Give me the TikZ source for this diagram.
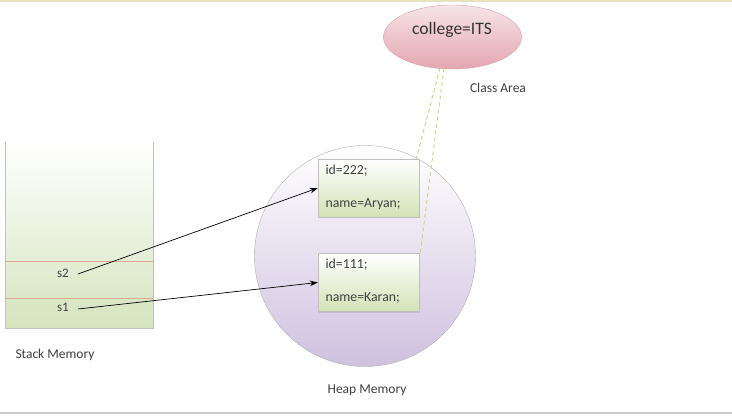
\documentclass[tikz,border=0pt]{standalone}
\usepackage{fontspec}
\setmainfont{Carlito}
\usetikzlibrary{arrows.meta,shadows,shapes.geometric}
\definecolor{stackg}{HTML}{D5E4BE}
\definecolor{boxg}{HTML}{D3E2B6}
\definecolor{heapv}{HTML}{CEC1DF}
\definecolor{pinkc}{HTML}{E3A6B0}
\definecolor{pinkb}{HTML}{D9A0AA}
\definecolor{dashc}{HTML}{C9D48E}
\definecolor{sepc}{HTML}{D9A995}
\definecolor{txt}{HTML}{404040}
\tikzset{
  objbox/.style={draw=black!25, top color=white, bottom color=boxg, minimum width=101pt, minimum height=58pt, inner sep=0pt, drop shadow={opacity=0.25, shadow xshift=1pt, shadow yshift=-1pt}},
  lbl/.style={font=\fontsize{13}{15}\selectfont, text=txt},
  boxt/.style={font=\fontsize{13.8}{15}\selectfont, text=txt},
  big/.style={font=\fontsize{13.5}{15}\selectfont, text=txt},
  ref/.style={-{Stealth[length=8pt,width=5.5pt]}, line width=0.7pt, black},
  dashg/.style={draw=dashc, line width=0.9pt, dash pattern=on 4pt off 3pt}
}
\begin{document}
\begin{tikzpicture}[x=1pt,y=-1pt]
\useasboundingbox (0,0) rectangle (732,416);
\fill[white] (0,0) rectangle (732,416);
\draw[draw=black!15!olive!20, line width=1.2pt] (0,1) -- (732,1);
\draw[draw=black!20, line width=1.2pt] (0,413) -- (732,413);
% stack
\shade[top color=white, bottom color=stackg, middle color=stackg!50] (5,142) rectangle (153,328);
\draw[black!25] (5,142) -- (5,328) -- (153,328) -- (153,142);
\draw[draw=sepc, line width=0.8pt] (5,261.5) -- (153,261.5);
\draw[draw=sepc, line width=0.8pt] (5,298) -- (153,298);
\node[lbl] (s2) at (63,273) {s2};
\node[lbl] (s1) at (63,307) {s1};
\coordinate (s2e) at (78,274);
\coordinate (s1e) at (78,309);
\node[big] (stk) at (55,355) {Stack Memory};
% heap
\node[circle, draw=black!30, top color=white, bottom color=heapv, minimum size=221pt, inner sep=0pt] (heap) at (365,256) {};
\node[big] (heapl) at (367,390) {Heap Memory};
\node[objbox] (b1) at (368.5,188) {};
\node[objbox] (b2) at (368.5,282.5) {};
\node[boxt, anchor=west] (id1) at (322,171) {id=222;};
\node[boxt, anchor=west] (n1) at (322,204) {name=Aryan;};
\node[boxt, anchor=west] (id2) at (322,265) {id=111;};
\node[boxt, anchor=west] (n2) at (322,298) {name=Karan;};
% class area
\node[ellipse, draw=pinkb, top color=pinkc!30, bottom color=pinkc, minimum width=138pt, minimum height=64pt, inner sep=0pt] (cls) at (452.5,37) {};
\node[font=\fontsize{17.5}{20}\selectfont, text=black!80] (col) at (452,30) {college=ITS};
\node[big] (cla) at (498,88) {Class Area};
% dashed links
\coordinate (c1) at (440,68);
\coordinate (c2) at (444,68);
\draw[dashg] (c1) -- ([xshift=-3pt]b1.north east);
\draw[dashg] (c2) -- ([xshift=1pt]b2.north east);
% arrows
\draw[ref] (s2e) -- (b1.west);
\draw[ref] (s1e) -- (b2.west);
\end{tikzpicture}
\end{document}
